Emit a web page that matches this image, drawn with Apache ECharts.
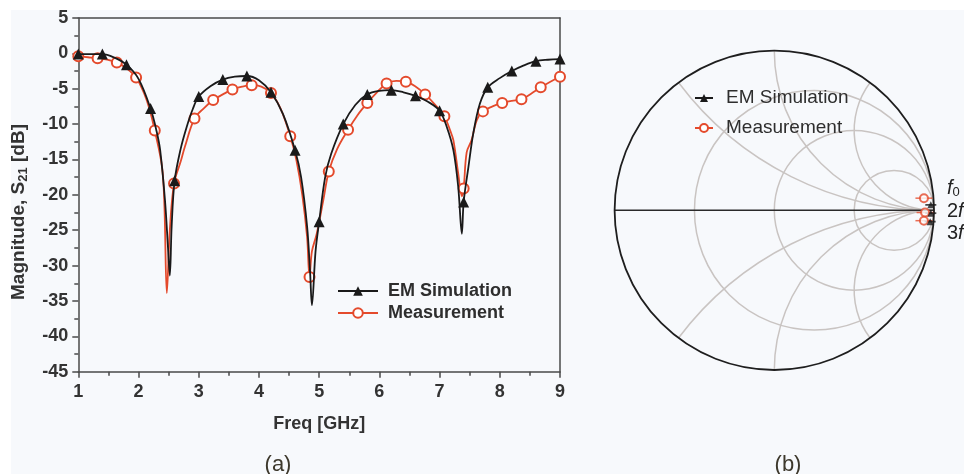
<!DOCTYPE html>
<html><head><meta charset="utf-8">
<script src="https://cdn.jsdelivr.net/npm/echarts@6/dist/echarts.min.js"></script>
<style>html,body{margin:0;padding:0;background:#fff}#c{width:964px;height:474px}</style>
</head><body><div id="c"></div>
<script>
// ---- axis ticks ----
const freqTicks = [1, 2, 3, 4, 5, 6, 7, 8, 9];
const dbTicks = [-45, -40, -35, -30, -25, -20, -15, -10, -5, 0, 5];

// ---- (a) EM Simulation: curve points and marker points ----
const simCurveF  = [1.2, 1.6, 2.0, 2.3, 2.36, 2.44, 2.49, 2.52, 2.55, 2.7, 2.8, 2.9, 3.2, 3.6, 4.0, 4.4, 4.7, 4.8, 4.85, 4.88, 4.94, 5.1, 5.2, 5.6, 6.0, 6.4, 6.8, 7.12, 7.23, 7.31, 7.37, 7.48, 7.56, 7.67, 8.0, 8.4, 8.8];
const simCurveDb = [-0.1, -0.6, -3.6, -11.0, -13.7, -20.8, -27.5, -31.4, -24.5, -13.5, -10.4, -7.9, -4.6, -3.3, -3.8, -8.6, -17.5, -24.5, -31.0, -35.6, -28.0, -17.5, -14.2, -7.3, -5.3, -5.5, -6.8, -10.4, -13.7, -18.9, -25.5, -16.0, -11.3, -7.1, -3.5, -1.7, -0.9];
const simMarkF  = [1.0, 1.4, 1.8, 2.2, 2.6, 3.0, 3.4, 3.8, 4.2, 4.6, 5.0, 5.4, 5.8, 6.2, 6.6, 7.0, 7.4, 7.8, 8.2, 8.6, 9.0];
const simMarkDb = [-0.1, -0.1, -1.6, -7.8, -18.0, -6.1, -3.7, -3.2, -5.5, -13.7, -23.8, -10.0, -5.8, -5.2, -6.0, -8.1, -21.0, -4.8, -2.5, -1.1, -0.8];

// ---- (a) Measurement: curve points and marker points ----
const measCurveF  = [1.16, 1.48, 1.8, 2.1, 2.18, 2.39, 2.43, 2.47, 2.52, 2.7, 2.77, 3.08, 3.4, 3.72, 4.04, 4.36, 4.62, 4.72, 4.8, 4.88, 4.96, 5.07, 5.3, 5.64, 5.96, 6.28, 6.6, 6.92, 7.18, 7.23, 7.31, 7.37, 7.45, 7.53, 7.62, 7.88, 8.2, 8.52, 8.84];
const measCurveDb = [-0.55, -0.9, -2.1, -5.8, -7.8, -16.0, -21.5, -33.9, -25.0, -15.3, -13.2, -7.8, -5.8, -4.7, -4.7, -7.8, -15.0, -20.0, -26.0, -28.0, -25.5, -20.7, -13.5, -8.7, -5.5, -3.9, -4.7, -7.2, -11.0, -12.3, -17.0, -20.2, -14.0, -12.3, -9.4, -7.5, -6.7, -5.7, -4.0];
const measMarkF  = [1.0, 1.32, 1.64, 1.96, 2.27, 2.59, 2.93, 3.24, 3.56, 3.88, 4.2, 4.52, 4.84, 5.16, 5.48, 5.8, 6.12, 6.44, 6.76, 7.08, 7.4, 7.72, 8.04, 8.36, 8.68, 9.0];
const measMarkDb = [-0.4, -0.7, -1.3, -3.4, -10.9, -18.4, -9.2, -6.6, -5.1, -4.5, -5.6, -11.7, -31.6, -16.7, -10.8, -7.0, -4.25, -4.0, -5.8, -8.9, -19.1, -8.2, -7.0, -6.5, -4.8, -3.3];

// ---- (b) Smith chart: reflection coefficient (Re, Im) at f0, 2f0, 3f0 ----
const smithSimRe  = [0.980, 0.980, 0.976];
const smithSimIm  = [0.034, -0.018, -0.071];
const smithMeasRe = [0.937, 0.944, 0.937];
const smithMeasIm = [0.076, -0.014, -0.065];
const harmonicLabels = ['{i|f}{s|0}', '2{i|f}{s|0}', '3{i|f}{s|0}'];

// ---- Smith grid values ----
const smithResistance = [1/3, 1, 3];
const smithReactance = [0.5, 1, 2, -0.5, -1, -2];

const FONT = "'Liberation Sans', Arial, sans-serif";
const BLACK = '#1a1a1a';
const RED = '#e44a2c';
const GRIDGRAY = '#c9c4c2';

function build(cf, cd, mf, md) {
  const pts = [];
  cf.forEach((f, i) => pts.push({ value: [f, cd[i]], symbol: 'none' }));
  mf.forEach((f, i) => pts.push({ value: [f, md[i]] }));
  pts.sort((a, b) => a.value[0] - b.value[0]);
  return pts;
}
function zip(a, b) { return a.map((v, i) => [v, b[i]]); }

function renderResistance(params, api) {
  const r = api.value(0);
  const c = api.coord([r / (r + 1), 0]);
  const e = api.coord([1, 0]);
  return { type: 'circle', shape: { cx: c[0], cy: c[1], r: e[0] - c[0] },
    style: { fill: null, stroke: GRIDGRAY, lineWidth: 1.5 } };
}
function renderReactance(params, api) {
  const x = api.value(0);
  const C = api.coord([1, 1 / x]);
  const P = api.coord([(x * x - 1) / (x * x + 1), 2 * x / (x * x + 1)]);
  const Q = api.coord([1, 0]);
  const r = Math.hypot(Q[0] - C[0], Q[1] - C[1]);
  const a1 = Math.atan2(P[1] - C[1], P[0] - C[0]);
  const a2 = Math.atan2(Q[1] - C[1], Q[0] - C[0]);
  let d = a2 - a1;
  while (d > Math.PI) d -= 2 * Math.PI;
  while (d <= -Math.PI) d += 2 * Math.PI;
  return { type: 'arc', shape: { cx: C[0], cy: C[1], r: r, startAngle: a1, endAngle: a1 + d, clockwise: d > 0 },
    style: { fill: null, stroke: GRIDGRAY, lineWidth: 1.5 } };
}
function renderBoundary(params, api) {
  const c = api.coord([0, 0]);
  const e = api.coord([1, 0]);
  const l = api.coord([-1, 0]);
  return { type: 'group', children: [
    { type: 'line', shape: { x1: l[0], y1: l[1], x2: e[0], y2: e[1] }, style: { stroke: '#2a2a2a', lineWidth: 1.4 } },
    { type: 'circle', shape: { cx: c[0], cy: c[1], r: e[0] - c[0] }, style: { fill: null, stroke: '#1e1e1e', lineWidth: 1.8 } }
  ] };
}

const chart = echarts.init(document.getElementById('c'), null, { renderer: 'canvas' });
const axisLineStyle = { color: '#4a4a4a', width: 1.5 };
const labelStyle = { fontFamily: FONT, fontSize: 18, fontWeight: 'bold', color: '#333' };
const richF = { i: { fontFamily: FONT, fontSize: 20, fontStyle: 'italic', fill: '#222' }, s: { fontFamily: FONT, fontSize: 13, fill: '#222', padding: [9, 0, 0, 0] } };
const harmonicY = [188, 211, 233];

const option = {
  backgroundColor: '#ffffff',
  animation: false,
  textStyle: { fontFamily: FONT },
  grid: [
    { left: 78.3, top: 18, width: 481.7, height: 353.7 },
    { left: 614.6, top: 50.6, width: 319.4, height: 319.4 }
  ],
  xAxis: [
    { type: 'value', gridIndex: 0, min: freqTicks[0], max: freqTicks[freqTicks.length - 1], interval: freqTicks[1] - freqTicks[0],
      name: 'Freq [GHz]', nameLocation: 'middle', nameGap: 43,
      nameTextStyle: { fontFamily: FONT, fontSize: 18, fontWeight: 'bold', color: '#333' },
      axisLine: { onZero: false, lineStyle: axisLineStyle }, axisTick: { length: 6, lineStyle: axisLineStyle },
      minorTick: { show: true, splitNumber: 2, length: 4, lineStyle: axisLineStyle },
      axisLabel: Object.assign({ margin: 11 }, labelStyle), splitLine: { show: false } },
    { type: 'value', gridIndex: 0, position: 'top', min: freqTicks[0], max: freqTicks[freqTicks.length - 1],
      axisLine: { onZero: false, lineStyle: axisLineStyle }, axisTick: { show: false }, axisLabel: { show: false }, splitLine: { show: false } },
    { type: 'value', gridIndex: 1, min: -1, max: 1, show: false }
  ],
  yAxis: [
    { type: 'value', gridIndex: 0, min: dbTicks[0], max: dbTicks[dbTicks.length - 1], interval: dbTicks[1] - dbTicks[0],
      axisLine: { onZero: false, lineStyle: axisLineStyle }, axisTick: { length: 6, lineStyle: axisLineStyle },
      minorTick: { show: true, splitNumber: 2, length: 4, lineStyle: axisLineStyle },
      axisLabel: Object.assign({ margin: 10 }, labelStyle), splitLine: { show: false } },
    { type: 'value', gridIndex: 0, position: 'right', min: dbTicks[0], max: dbTicks[dbTicks.length - 1],
      axisLine: { onZero: false, lineStyle: axisLineStyle }, axisTick: { show: false }, axisLabel: { show: false }, splitLine: { show: false } },
    { type: 'value', gridIndex: 1, min: -1, max: 1, show: false }
  ],
  legend: [
    { left: 337, top: 281, padding: 0, orient: 'vertical', itemWidth: 40, itemHeight: 12, itemGap: 2,
      data: ['EM Simulation', 'Measurement'],
      textStyle: { fontFamily: FONT, fontSize: 18, fontWeight: 'bold', color: '#2e2e2e', lineHeight: 20, padding: [0, 0, 0, 5] } },
    { left: 694, top: 88, padding: 0, orient: 'vertical', itemWidth: 18, itemHeight: 10, itemGap: 10,
      data: ['EM Simulation', 'Measurement'],
      textStyle: { fontFamily: FONT, fontSize: 19, color: '#2e2e2e', lineHeight: 20, padding: [0, 0, 0, 8] } }
  ],
  graphic: [
    { type: 'rect', z: -10, shape: { x: 11, y: 10, width: 953, height: 464 }, style: { fill: '#f7f9fc' } },
    { type: 'text', x: 18.5, y: 212, rotation: Math.PI / 2,
      style: { text: 'Magnitude, S{s|21} [dB]', fontFamily: FONT, fontSize: 19, fontWeight: 'bold', fill: '#333',
        textAlign: 'center', textVerticalAlign: 'middle', align: 'center', verticalAlign: 'middle',
        rich: { s: { fontFamily: FONT, fontSize: 13, fontWeight: 'bold', fill: '#333', padding: [10, 0, 0, 0] } } } },
    { type: 'text', x: 278, y: 465,
      style: { text: '(a)', fontFamily: FONT, fontSize: 22, fill: '#3d382c', textAlign: 'center', textVerticalAlign: 'middle', align: 'center', verticalAlign: 'middle' } },
    { type: 'text', x: 788, y: 465,
      style: { text: '(b)', fontFamily: FONT, fontSize: 22, fill: '#3d382c', textAlign: 'center', textVerticalAlign: 'middle', align: 'center', verticalAlign: 'middle' } }
  ].concat(harmonicLabels.map((t, i) => ({
    type: 'text', x: 947, y: harmonicY[i],
    style: { text: t, fontFamily: FONT, fontSize: 20, fill: '#222', textVerticalAlign: 'middle', verticalAlign: 'middle', rich: richF }
  }))),
  series: [
    { name: 'EM Simulation', type: 'line', xAxisIndex: 0, yAxisIndex: 0, smooth: 0.35,
      data: build(simCurveF, simCurveDb, simMarkF, simMarkDb),
      symbol: 'triangle', symbolSize: 11, showSymbol: true, z: 4,
      lineStyle: { color: BLACK, width: 1.8 }, itemStyle: { color: BLACK } },
    { name: 'Measurement', type: 'line', xAxisIndex: 0, yAxisIndex: 0, smooth: 0.35,
      data: build(measCurveF, measCurveDb, measMarkF, measMarkDb),
      symbol: 'emptyCircle', symbolSize: 10, showSymbol: true, z: 3,
      lineStyle: { color: RED, width: 1.8 }, itemStyle: { color: RED, borderWidth: 1.6 } },
    { type: 'custom', xAxisIndex: 2, yAxisIndex: 2, renderItem: renderResistance, z: 1,
      data: smithResistance.map(r => [r, 0]), silent: true },
    { type: 'custom', xAxisIndex: 2, yAxisIndex: 2, renderItem: renderReactance, z: 1,
      data: smithReactance.map(x => [x, 0]), silent: true },
    { type: 'custom', xAxisIndex: 2, yAxisIndex: 2, renderItem: renderBoundary, z: 2,
      data: [[0, 0]], silent: true },
    { type: 'scatter', xAxisIndex: 2, yAxisIndex: 2, z: 3, data: zip(smithMeasRe, smithMeasIm),
      symbol: 'rect', symbolSize: [17, 1.5], itemStyle: { color: RED }, silent: true },
    { type: 'scatter', xAxisIndex: 2, yAxisIndex: 2, z: 3, data: zip(smithSimRe, smithSimIm),
      symbol: 'rect', symbolSize: [11, 1.8], itemStyle: { color: BLACK }, silent: true },
    { name: 'Measurement', type: 'scatter', xAxisIndex: 2, yAxisIndex: 2, z: 4, data: zip(smithMeasRe, smithMeasIm),
      symbol: 'emptyCircle', symbolSize: 8, itemStyle: { color: RED, borderWidth: 1.5 } },
    { name: 'EM Simulation', type: 'scatter', xAxisIndex: 2, yAxisIndex: 2, z: 5, data: zip(smithSimRe, smithSimIm),
      symbol: 'triangle', symbolSize: 7, itemStyle: { color: BLACK } }
  ]
};
chart.setOption(option);
</script></body></html>
